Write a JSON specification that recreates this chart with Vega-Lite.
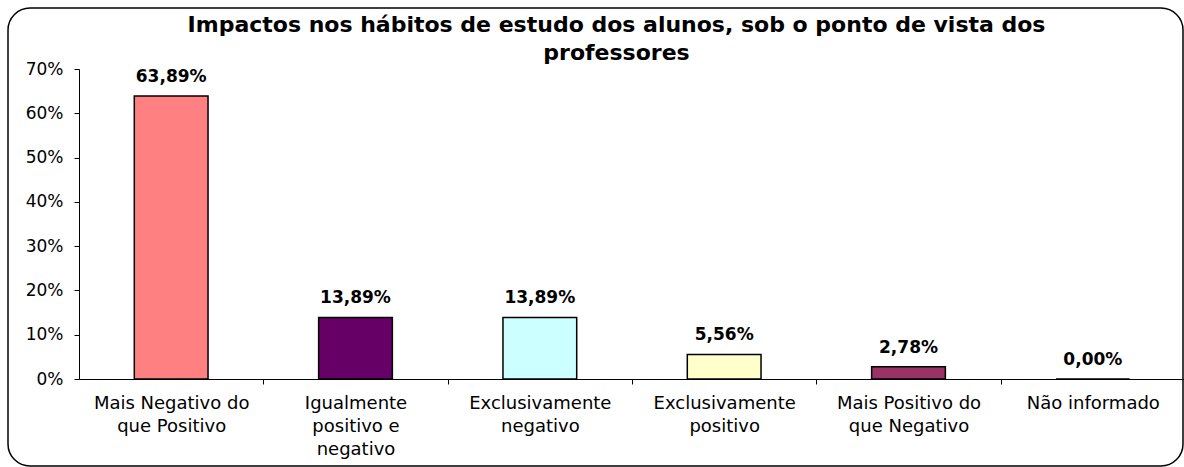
{
  "$schema": "https://vega.github.io/schema/vega-lite/v6.json",
  "width": 1175,
  "height": 458,
  "autosize": "none",
  "padding": {"left": 8, "top": 8, "right": 1, "bottom": 1},
  "background": "white",
  "config": {
    "locale": {"number": {"decimal": ",", "thousands": ".", "grouping": [3], "currency": ["", ""]}},
    "view": {"stroke": "black", "strokeWidth": 1.5, "cornerRadius": 22},
    "font": "DejaVu Sans"
  },
  "title": {
    "text": ["Impactos nos hábitos de estudo dos alunos, sob o ponto de vista dos", "professores"],
    "font": "DejaVu Sans",
    "fontSize": 22,
    "fontWeight": "bold",
    "color": "black",
    "lineHeight": 28,
    "anchor": "middle",
    "baseline": "top",
    "offset": 0,
    "dx": 21,
    "dy": 57
  },
  "data": {
    "values": [
      {"categoria": "Mais Negativo do que Positivo", "valor": 0.6389},
      {"categoria": "Igualmente positivo e negativo", "valor": 0.1389},
      {"categoria": "Exclusivamente negativo", "valor": 0.1389},
      {"categoria": "Exclusivamente positivo", "valor": 0.0556},
      {"categoria": "Mais Positivo do que Negativo", "valor": 0.0278},
      {"categoria": "Não informado", "valor": 0.0}
    ]
  },
  "encoding": {
    "x": {
      "field": "categoria",
      "type": "nominal",
      "sort": null,
      "scale": {"type": "band", "range": [71, 1177], "paddingInner": 0.6, "paddingOuter": 0.3},
      "axis": {
        "orient": "bottom",
        "offset": -87,
        "title": null,
        "labelAngle": 0,
        "labelAlign": "center",
        "labelBaseline": "top",
        "labelFont": "DejaVu Sans",
        "labelFontSize": 18,
        "labelLineHeight": 23,
        "labelColor": "black",
        "labelPadding": 10,
        "labelLimit": 300,
        "tickSize": 5,
        "tickColor": "black",
        "tickOffset": 92,
        "labelOffset": -92,
        "domainColor": "black",
        "domainWidth": 1,
        "grid": false,
        "labelExpr": "datum.value == 'Mais Negativo do que Positivo' ? ['Mais Negativo do', 'que Positivo'] : datum.value == 'Igualmente positivo e negativo' ? ['Igualmente', 'positivo e', 'negativo'] : datum.value == 'Exclusivamente negativo' ? ['Exclusivamente', 'negativo'] : datum.value == 'Exclusivamente positivo' ? ['Exclusivamente', 'positivo'] : datum.value == 'Mais Positivo do que Negativo' ? ['Mais Positivo do', 'que Negativo'] : datum.value"
      }
    },
    "y": {
      "field": "valor",
      "type": "quantitative",
      "scale": {"domain": [0, 0.7], "range": [371, 61], "nice": false, "zero": true},
      "axis": {
        "offset": -71,
        "title": null,
        "format": ".0%",
        "values": [0, 0.1, 0.2, 0.3, 0.4, 0.5, 0.6, 0.7],
        "grid": false,
        "domainColor": "black",
        "domainWidth": 1,
        "tickColor": "black",
        "tickSize": 5,
        "labelFont": "DejaVu Sans",
        "labelFontSize": 17,
        "labelColor": "black",
        "labelPadding": 11
      }
    }
  },
  "layer": [
    {
      "mark": {"type": "bar", "stroke": "black", "strokeWidth": 1.5},
      "encoding": {
        "color": {
          "field": "categoria",
          "type": "nominal",
          "sort": null,
          "scale": {"range": ["#FF8080", "#660066", "#CCFFFF", "#FFFFCC", "#993366", "#FF8080"]},
          "legend": null
        }
      }
    },
    {
      "mark": {"type": "text", "font": "DejaVu Sans", "fontWeight": "bold", "fontSize": 17, "baseline": "alphabetic", "dy": -14, "color": "black"},
      "encoding": {
        "text": {"field": "valor", "type": "quantitative", "format": ".2%"}
      }
    }
  ]
}
